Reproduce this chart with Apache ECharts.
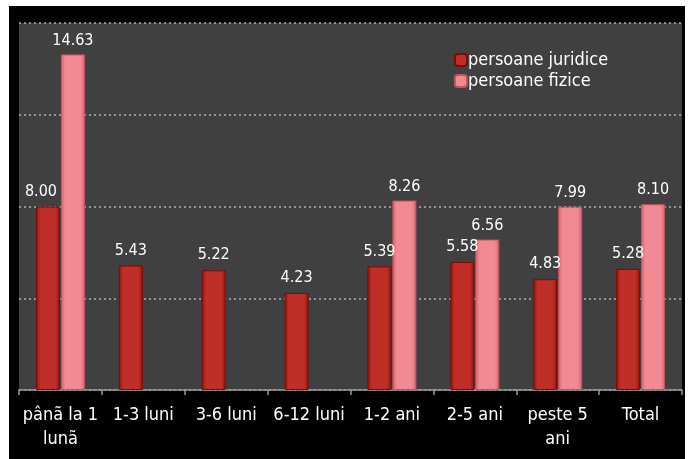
<!DOCTYPE html>
<html>
<head>
<meta charset="utf-8">
<script src="https://cdn.jsdelivr.net/npm/echarts@6/dist/echarts.min.js"></script>
<style>
html,body{margin:0;padding:0;background:#fff;width:689px;height:459px;overflow:hidden;}
#c{position:absolute;left:9px;top:6px;width:676px;height:453px;}
</style>
</head>
<body>
<div id="c"></div>
<script>
var categories = ['pânã la 1\nlunã', '1-3 luni', '3-6 luni', '6-12 luni', '1-2 ani', '2-5 ani', 'peste 5\nani', 'Total'];
var juridice = [8.00, 5.43, 5.22, 4.23, 5.39, 5.58, 4.83, 5.28];
var fizice = [14.63, null, null, null, 8.26, 6.56, 7.99, 8.10];
var seriesNames = ['persoane juridice', 'persoane fizice'];
var yTicks = {min: 0, max: 16, interval: 4};

var FONT = '"DejaVu Sans Condensed", "DejaVu Sans", sans-serif';
function grad(edge, mid) {
  return new echarts.graphic.LinearGradient(0, 0, 1, 0, [
    {offset: 0, color: edge}, {offset: 0.18, color: mid},
    {offset: 0.82, color: mid}, {offset: 1, color: edge}
  ]);
}
var chart = echarts.init(document.getElementById('c'));
chart.setOption({
  backgroundColor: '#000',
  animation: false,
  grid: {left: 10, right: 3, top: 17, bottom: 69, show: true, backgroundColor: '#404040', borderWidth: 0},
  legend: {
    data: seriesNames, orient: 'vertical', left: 440, top: 40, itemWidth: 12, itemHeight: 12, itemGap: 3,
    textStyle: {color: '#fff', fontSize: 18, fontFamily: FONT, padding: [0, 0, 0, -4]}
  },
  xAxis: {
    type: 'category', data: categories,
    axisLine: {lineStyle: {color: '#9a9a9a', width: 1.5}},
    axisTick: {show: true, length: 5, lineStyle: {color: '#9a9a9a', width: 1.5}},
    axisLabel: {color: '#fff', fontSize: 18, fontFamily: FONT, lineHeight: 24, margin: 13, interval: 0}
  },
  yAxis: {
    type: 'value', min: yTicks.min, max: yTicks.max, interval: yTicks.interval,
    axisLabel: {show: false}, axisLine: {show: false}, axisTick: {show: false},
    splitLine: {lineStyle: {color: '#b0b0b0', type: [2, 3], width: 1.5}}
  },
  series: [
    {
      name: seriesNames[0], type: 'bar', data: juridice.map(function (v, i) {
        return i === 0 ? {value: v, label: {offset: [-7, 0]}} : v;
      }),
      barWidth: 24, barGap: '4%',
      itemStyle: {color: grad('#8e1410', '#bf2e27'), borderColor: '#7a0c08', borderWidth: 1},
      label: {show: true, position: 'top', distance: 7, color: '#fff', fontSize: 16, fontFamily: FONT,
        formatter: function (p) { return p.value.toFixed(2); }}
    },
    {
      name: seriesNames[1], type: 'bar', data: fizice,
      barWidth: 24,
      itemStyle: {color: grad('#d7606b', '#f28a93'), borderColor: '#c45560', borderWidth: 1},
      label: {show: true, position: 'top', distance: 6, color: '#fff', fontSize: 16, fontFamily: FONT,
        formatter: function (p) { return p.value == null ? '' : p.value.toFixed(2); }}
    }
  ]
});
</script>
</body>
</html>
